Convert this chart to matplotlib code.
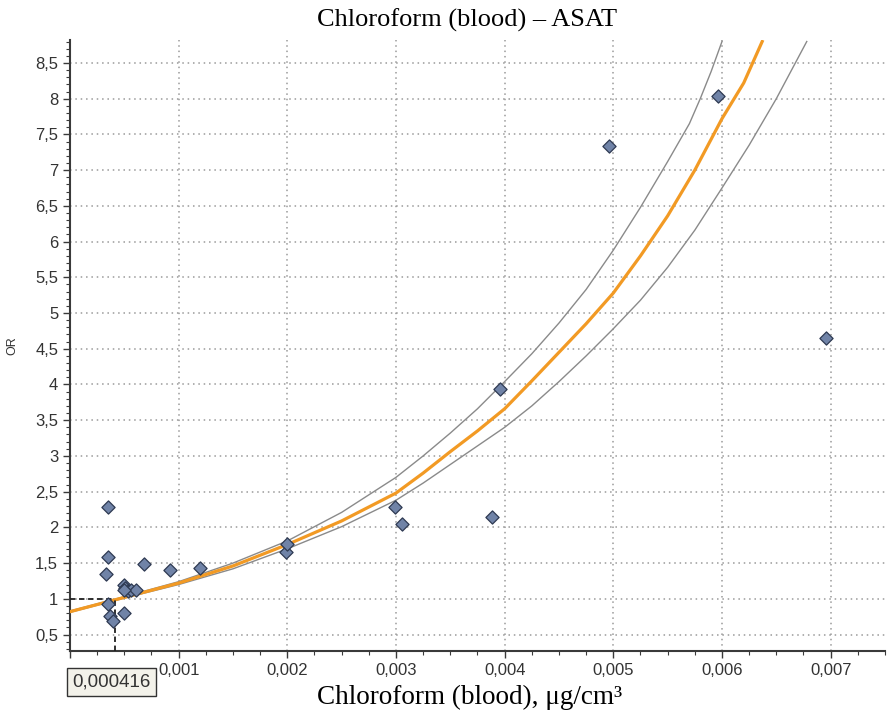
import matplotlib
matplotlib.use("Agg")
import matplotlib.pyplot as plt
from matplotlib.ticker import MultipleLocator, FuncFormatter

# Datos
obs_x = [0.000346, 0.000346, 0.000331, 0.000677, 0.000922, 0.0012,
         0.000493, 0.000508, 0.00053, 0.00056, 0.000607, 0.000493,
         0.000346, 0.00037, 0.000392, 0.0005, 0.00199, 0.002,
         0.00299, 0.00306, 0.00388, 0.00396, 0.00496, 0.00596, 0.00696]
obs_or = [2.29, 1.59, 1.35, 1.49, 1.41, 1.43,
          1.20, 1.15, 1.11, 1.13, 1.12, 1.13,
          0.93, 0.76, 0.69, 0.80, 1.65, 1.77,
          2.28, 2.05, 2.14, 3.94, 7.34, 8.04, 4.65]

fit_x = [0, 0.0005, 0.001, 0.0015, 0.002, 0.0025, 0.003, 0.00325, 0.0035,
         0.00375, 0.004, 0.00425, 0.0045, 0.00475, 0.005, 0.00525, 0.0055,
         0.00575, 0.006, 0.0062, 0.00637]
fit_or = [0.82, 1.02, 1.22, 1.46, 1.76, 2.09, 2.48, 2.76, 3.06,
          3.35, 3.66, 4.05, 4.45, 4.85, 5.28, 5.8, 6.36,
          7.0, 7.72, 8.22, 8.8]

upper_x = [0, 0.0005, 0.001, 0.0015, 0.002, 0.0025, 0.003, 0.00325, 0.0035,
           0.00375, 0.004, 0.00425, 0.0045, 0.00475, 0.005, 0.00525, 0.0055,
           0.0057, 0.0058, 0.0059, 0.006]
upper_or = [0.83, 1.03, 1.24, 1.50, 1.81, 2.21, 2.70, 3.0, 3.32,
            3.66, 4.04, 4.43, 4.86, 5.33, 5.88, 6.48, 7.12,
            7.65, 8.0, 8.38, 8.8]

lower_x = [0, 0.0005, 0.001, 0.0015, 0.002, 0.0025, 0.003, 0.00325, 0.0035,
           0.00375, 0.004, 0.00425, 0.0045, 0.00475, 0.005, 0.00525, 0.0055,
           0.00575, 0.006, 0.00625, 0.0065, 0.00678]
lower_or = [0.81, 1.01, 1.20, 1.42, 1.70, 2.01, 2.38, 2.62, 2.88,
            3.14, 3.40, 3.70, 4.04, 4.40, 4.78, 5.18, 5.64,
            6.16, 6.75, 7.35, 8.0, 8.8]

x_ref = 0.000416
x_ref_label = "0,000416"

title = "Chloroform (blood) – ASAT"
xlabel = "Chloroform (blood), μg/cm³"
ylabel = "OR"

serif = ["Liberation Serif", "DejaVu Serif"]
plt.rcParams['font.family'] = ["Liberation Sans", "DejaVu Sans"]

fig = plt.figure(figsize=(8.89, 7.12), dpi=100)
ax = fig.add_axes([0.0787, 0.0857, 0.9168, 0.858])

ax.plot(upper_x, upper_or, color='#8a8a8a', lw=1.0, zorder=3)
ax.plot(lower_x, lower_or, color='#8a8a8a', lw=1.0, zorder=3)
ax.plot(fit_x, fit_or, color='#f29a24', lw=2.3, zorder=4)

# líneas de referencia OR = 1
ax.plot([0, x_ref], [1, 1], color='#202020', lw=1.3, ls=(0, (3, 2)), zorder=5)
ax.plot([x_ref, x_ref], [0.27, 1], color='#202020', lw=1.3, ls=(0, (3, 2)), zorder=5)

ax.scatter(obs_x, obs_or, marker='D', s=45, facecolor='#7083a7',
           edgecolor='#2e3a52', linewidth=0.9, zorder=6)

ax.set_xlim(0, 0.0075)
ax.set_ylim(0.27, 8.82)
ax.xaxis.set_major_locator(MultipleLocator(0.001))
ax.xaxis.set_minor_locator(MultipleLocator(0.00025))
ax.yaxis.set_major_locator(MultipleLocator(0.5))
ax.yaxis.set_minor_locator(MultipleLocator(0.1))

def fmt_x(v, pos):
    if v < 0.0005:
        return ""
    return f"{v:.3f}".replace(".", ",")

def fmt_y(v, pos):
    s = f"{v:.1f}".rstrip("0").rstrip(".")
    return s.replace(".", ",")

ax.xaxis.set_major_formatter(FuncFormatter(fmt_x))
ax.yaxis.set_major_formatter(FuncFormatter(fmt_y))

ax.grid(True, which='major', ls=(0, (1, 2.5)), color='#9a9a9a', lw=1.1)
ax.set_axisbelow(True)
for s in ['top', 'right']:
    ax.spines[s].set_visible(False)
for s in ['left', 'bottom']:
    ax.spines[s].set_color('#3a3a3a')
    ax.spines[s].set_linewidth(1.5)

ax.tick_params(which='major', length=5, width=1, color='#3a3a3a',
               labelsize=12, labelcolor='#333333')
ax.tick_params(which='minor', length=3, width=0.8, color='#3a3a3a')

ax.set_title(title, family=serif, fontsize=19, pad=10, x=0.487)
ax.set_xlabel(xlabel, family=serif, fontsize=19.5, labelpad=5, x=0.49)
ax.set_ylabel(ylabel, fontsize=9, labelpad=12, color='#333333')

fig.text(0.0815, 0.042, x_ref_label, fontsize=13.5, color='#333333',
         va='center', ha='left',
         bbox=dict(boxstyle='square,pad=0.3', facecolor='#f3f2ea',
                   edgecolor='#333333', linewidth=1.0))

fig.savefig("out.png", dpi=100)
